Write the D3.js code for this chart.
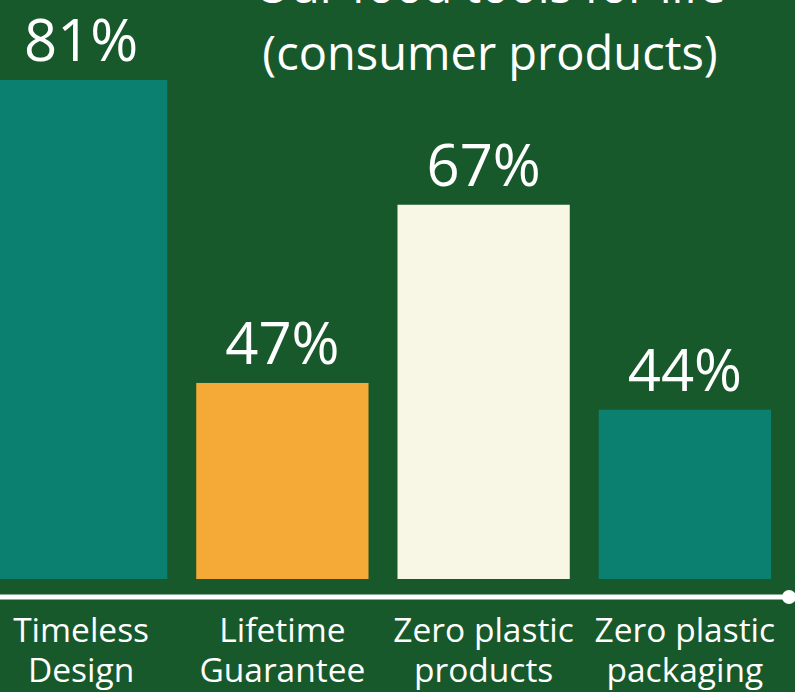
<!DOCTYPE html>
<html>
<head>
<meta charset="UTF-8">
<title>Our food tools for life</title>
<script src="https://d3js.org/d3.v7.min.js"></script>
<style>
  body { margin: 0; background: #18592c; overflow: hidden; }
  text { font-family: "Open Sans", "Noto Sans", sans-serif; fill: #fff; }
</style>
</head>
<body>
<div id="chart"></div>
<script>
  // chart data
  const categories = [["Timeless", "Design"], ["Lifetime", "Guarantee"], ["Zero plastic", "products"], ["Zero plastic", "packaging"]];
  const values = [81, 47, 67, 44];
  const barColors = ["#0b8070", "#f5a936", "#f8f7e6", "#0b8070"];
  const titleLines = ["Our food tools for life", "(consumer products)"];

  const width = 795, height = 692;

  let svg = d3.select("#chart")
              .append("svg")
              .attr("width", width)
              .attr("height", height);

  svg.append("rect").attr("width", width).attr("height", height).attr("fill", "#18592c");

  // band scale, first bar runs off the left edge
  let x = d3.scaleBand()
            .domain(d3.range(values.length))
            .range([-19.5, 785.5])
            .paddingInner(0.144)
            .paddingOuter(0.072);

  // bars in the original are not drawn from zero
  let y = d3.scaleLinear()
            .domain([25, 81])
            .range([579, 80]);

  svg.selectAll("rect.bar")
     .data(values)
     .join("rect")
     .attr("class", "bar")
     .attr("x", (d, i) => x(i))
     .attr("y", d => y(d))
     .attr("width", x.bandwidth())
     .attr("height", d => y.range()[0] - y(d))
     .attr("fill", (d, i) => barColors[i]);

  svg.selectAll("text.val")
     .data(values)
     .join("text")
     .attr("class", "val")
     .attr("x", (d, i) => x(i) + x.bandwidth() / 2)
     .attr("y", d => y(d) - 19)
     .attr("text-anchor", "middle")
     .attr("font-size", 58)
     .text(d => d + "%");

  // baseline with dot
  svg.append("line")
     .attr("x1", 0).attr("x2", 789)
     .attr("y1", 597).attr("y2", 597)
     .attr("stroke", "#fff").attr("stroke-width", 5);
  svg.append("circle")
     .attr("cx", 789).attr("cy", 597).attr("r", 7)
     .attr("fill", "#fff");

  let lab = svg.selectAll("text.cat")
     .data(categories)
     .join("text")
     .attr("class", "cat")
     .attr("text-anchor", "middle")
     .attr("font-size", 33.5);
  lab.each(function(d, i) {
    let t = d3.select(this);
    d.forEach((s, j) => {
      t.append("tspan")
       .attr("x", x(i) + x.bandwidth() / 2)
       .attr("y", 642 + j * 40)
       .text(s);
    });
  });

  svg.selectAll("text.title")
     .data(titleLines)
     .join("text")
     .attr("class", "title")
     .attr("x", 490)
     .attr("y", (d, i) => 3 + i * 67)
     .attr("text-anchor", "middle")
     .attr("font-size", 47)
     .text(d => d);
</script>
</body>
</html>
